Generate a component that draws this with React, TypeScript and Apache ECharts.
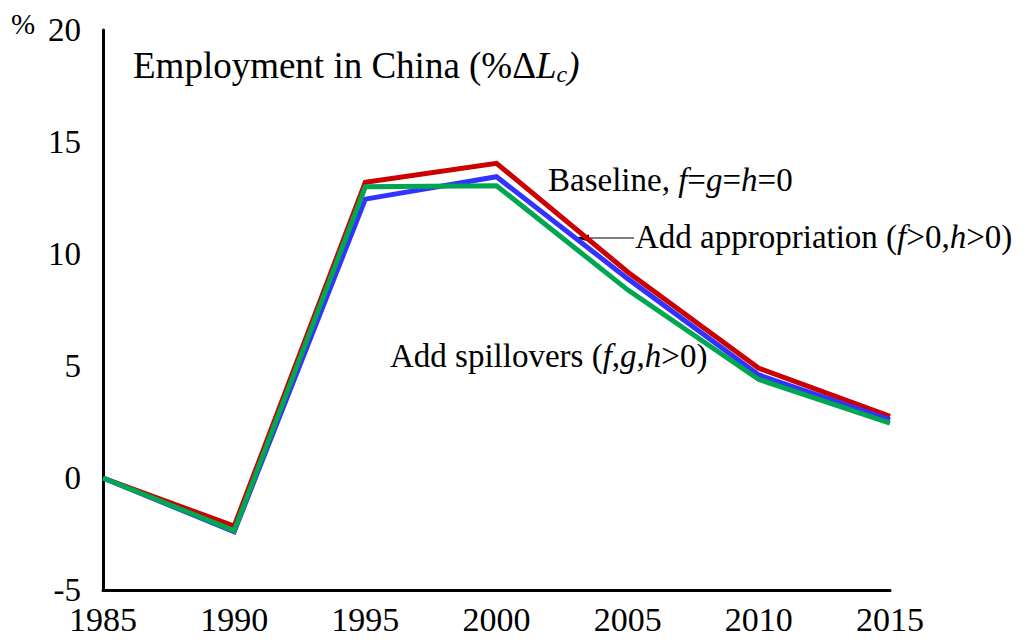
import React, { useEffect, useRef } from "react";
import * as echarts from "echarts";

const years = ["1985", "1990", "1995", "2000", "2005", "2010", "2015"];
const baseline = [0, -2.15, 13.2, 14.05, 9.2, 4.9, 2.75];
const appropriation = [0, -2.4, 12.45, 13.45, 8.9, 4.6, 2.6];
const spillovers = [0, -2.35, 13.0, 13.05, 8.4, 4.4, 2.45];
const yTicks = { min: -5, max: 20, interval: 5 };

const FONT = "Liberation Serif";

export default function App() {
  const ref = useRef<HTMLDivElement>(null);
  useEffect(() => {
    const chart = echarts.init(ref.current!, null, { renderer: "svg" });
    const line = (name: string, data: number[], color: string) => ({
      name,
      type: "line",
      data,
      symbol: "none",
      lineStyle: { color, width: 5, join: "miter" },
      itemStyle: { color },
    });
    const ann = (size: number) => ({
      fontFamily: FONT,
      fontSize: size,
      fill: "#000",
      rich: { i: { fontFamily: FONT, fontSize: size, fontStyle: "italic", fill: "#000" } },
    });
    chart.setOption({
      animation: false,
      backgroundColor: "#fff",
      grid: { left: 103, top: 30, right: 135, bottom: 54 },
      xAxis: {
        type: "category",
        data: years,
        boundaryGap: false,
        axisLine: { onZero: false, lineStyle: { color: "#000", width: 3 } },
        axisTick: { show: false },
        axisLabel: { color: "#000", fontFamily: FONT, fontSize: 34, margin: 12 },
        splitLine: { show: false },
      },
      yAxis: {
        type: "value",
        min: yTicks.min,
        max: yTicks.max,
        interval: yTicks.interval,
        axisLine: { show: true, lineStyle: { color: "#000", width: 3 } },
        axisTick: { show: false },
        axisLabel: { color: "#000", fontFamily: FONT, fontSize: 33, margin: 22 },
        splitLine: { show: false },
      },
      series: [
        line("Baseline", baseline, "#CC0000"),
        line("Add appropriation", appropriation, "#3333FF"),
        line("Add spillovers", spillovers, "#00A650"),
      ],
      graphic: [
        {
          type: "text",
          left: 11,
          top: 9,
          style: { text: "%", fontFamily: FONT, fontSize: 29, fill: "#000" },
        },
        {
          type: "text",
          left: 133,
          top: 47,
          style: {
            text: "Employment in China (%Δ{i|L}{s|c}{i|)}",
            fontFamily: FONT,
            fontSize: 37,
            fill: "#000",
            rich: {
              i: { fontFamily: FONT, fontSize: 37, fontStyle: "italic", fill: "#000" },
              s: { fontFamily: FONT, fontSize: 24, fontStyle: "italic", fill: "#000", padding: [17, 0, 0, 0] },
            },
          },
        },
        {
          type: "text",
          left: 548,
          top: 163,
          style: { text: "Baseline, {i|f}={i|g}={i|h}=0", ...ann(33) },
        },
        {
          type: "text",
          left: 635,
          top: 220,
          style: { text: "Add appropriation ({i|f}>0,{i|h}>0)", ...ann(33) },
        },
        {
          type: "text",
          left: 390,
          top: 339,
          style: { text: "Add spillovers ({i|f},{i|g},{i|h}>0)", ...ann(33) },
        },
        {
          type: "line",
          shape: { x1: 588, y1: 238, x2: 634, y2: 238 },
          style: { stroke: "#000", lineWidth: 1.2 },
        },
        {
          type: "polygon",
          shape: { points: [[575, 238], [589, 234.5], [589, 241.5]] },
          style: { fill: "#000" },
        },
      ],
    });
    return () => chart.dispose();
  }, []);
  return <div ref={ref} style={{ width: 1025, height: 644, position: "absolute", left: 0, top: 0 }} />;
}
